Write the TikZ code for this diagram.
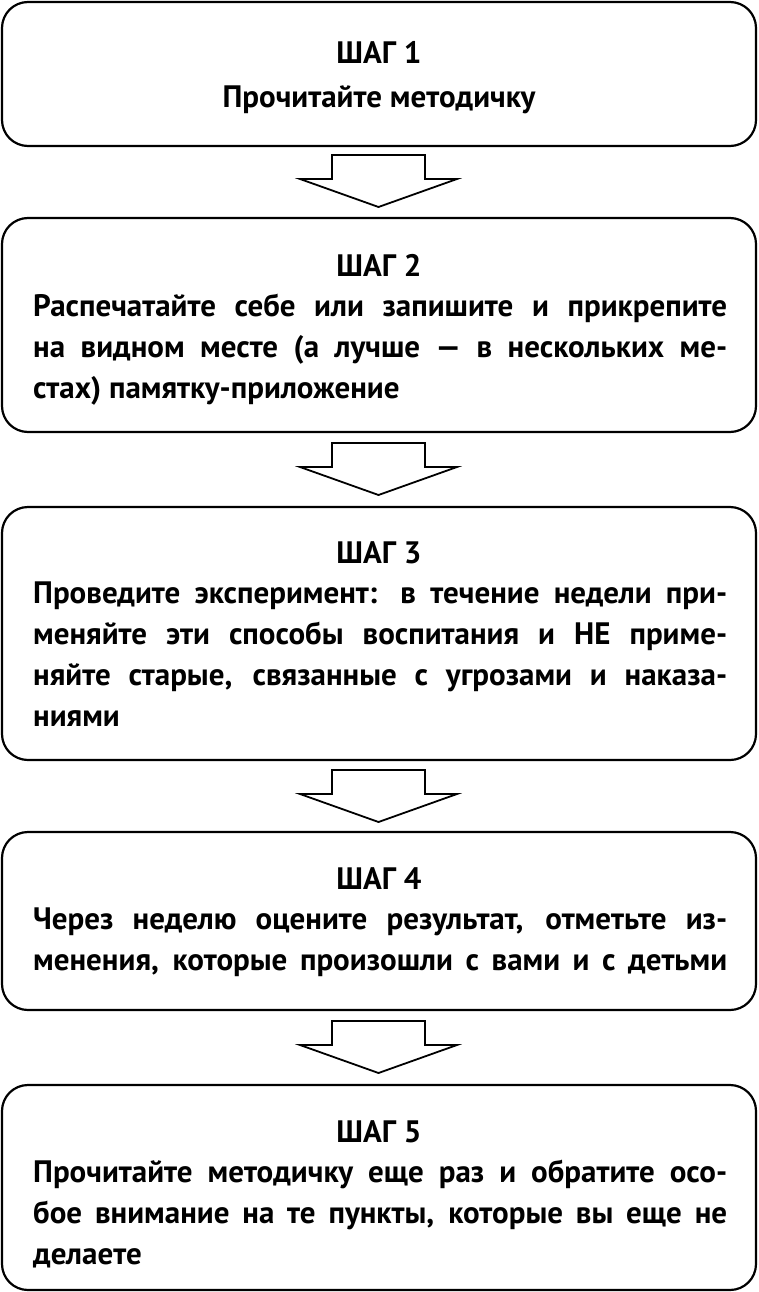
\documentclass[tikz,border=0pt]{standalone}
\usepackage{fontspec}
\setmainfont{PT Sans}
\begin{document}
\begin{tikzpicture}[x=1pt,y=-1pt,
  stepbox/.style={draw,line width=2.2pt,rounded corners=26pt},
  arr/.style={draw,line width=1.8pt,line join=miter},
  hd/.style={anchor=base,inner sep=0,font=\bfseries\fontsize{31}{36}\selectfont},
  tx/.style={anchor=base west,inner sep=0,font=\bfseries\fontsize{31}{36}\selectfont}]
\useasboundingbox (0,0) rectangle (758,1292);
\newcommand\arrowat[1]{\draw[arr] (332,#1) -- (425,#1) -- (425,#1+24) -- (457,#1+24) -- (378.5,#1+52) -- (300,#1+24) -- (332,#1+24) -- cycle;}
\newcommand\jl[1]{\makebox[694pt][s]{#1}}
\draw[stepbox] (2,2) rectangle (756,146);
\node[hd] (h1) at (379,64) {ШАГ 1};
\node[hd] (t1) at (379,108) {Прочитайте методичку};
\arrowat{155}
\draw[stepbox] (2,218) rectangle (756,432);
\node[hd] (h2) at (379,276) {ШАГ 2};
\node[tx] (t2a) at (33,316) {\jl{Распечатайте себе или запишите и прикрепите}};
\node[tx] (t2b) at (33,357) {\jl{на видном месте (а лучше — в нескольких ме-}};
\node[tx] (t2c) at (33,398) {стах) памятку-приложение};
\arrowat{443}
\draw[stepbox] (2,507) rectangle (756,760);
\node[hd] (h3) at (379,563) {ШАГ 3};
\node[tx] at (33,603) {\jl{Проведите эксперимент: в течение недели при-}};
\node[tx] at (33,644) {\jl{меняйте эти способы воспитания и НЕ приме-}};
\node[tx] at (33,685) {\jl{няйте старые, связанные с угрозами и наказа-}};
\node[tx] at (33,726) {ниями};
\arrowat{770}
\draw[stepbox] (2,832) rectangle (756,1010);
\node[hd] (h4) at (379,889) {ШАГ 4};
\node[tx] at (33,929) {\jl{Через неделю оцените результат, отметьте из-}};
\node[tx] at (33,970) {\jl{менения, которые произошли с вами и с детьми}};
\arrowat{1021}
\draw[stepbox] (2,1085) rectangle (756,1290);
\node[hd] (h5) at (379,1142) {ШАГ 5};
\node[tx] at (33,1182) {\jl{Прочитайте методичку еще раз и обратите осо-}};
\node[tx] at (33,1223) {\jl{бое внимание на те пункты, которые вы еще не}};
\node[tx] at (33,1264) {делаете};
\end{tikzpicture}
\end{document}
